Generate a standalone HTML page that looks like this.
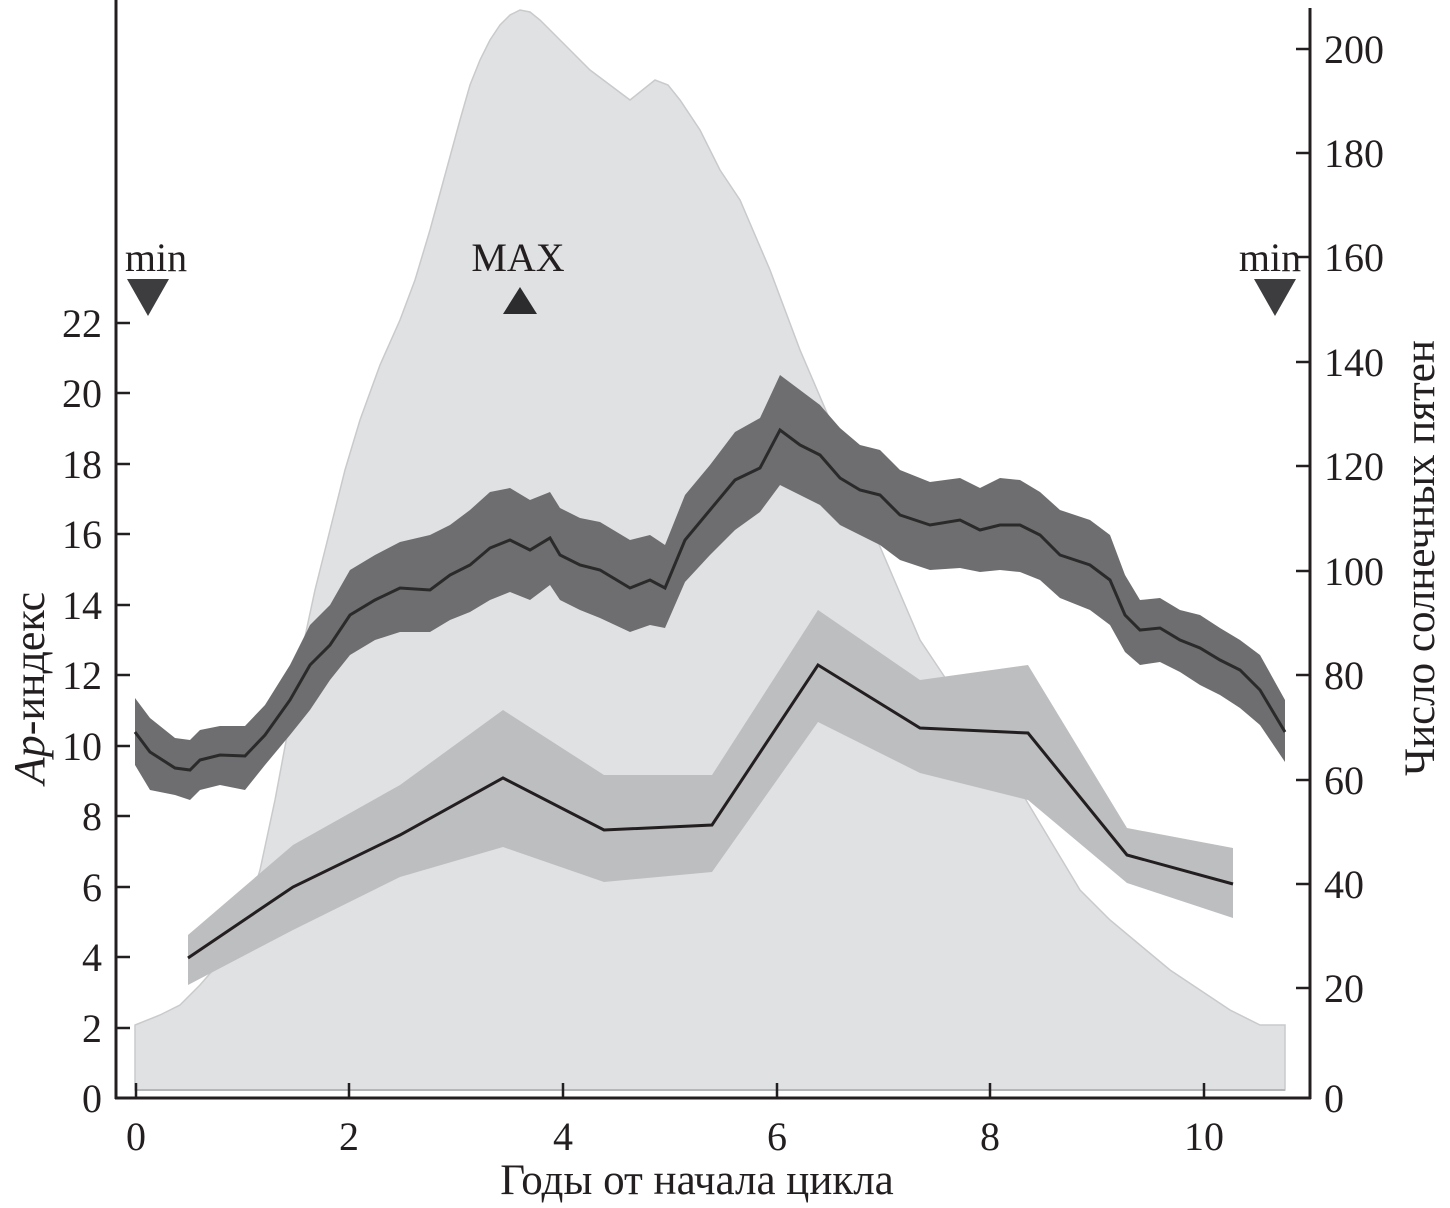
<!DOCTYPE html>
<html><head><meta charset="utf-8"><style>body{margin:0;background:#fff}svg{display:block}text{font-family:"Liberation Serif","DejaVu Serif",serif;fill:#231f20}</style></head><body>
<svg width="1450" height="1208" viewBox="0 0 1450 1208">
<path d="M135,1090 L135,1025 L160,1015 L180,1005 L200,985 L220,962 L240,935 L260,870 L275,800 L290,720 L300,660 L315,590 L330,530 L345,470 L360,420 L380,365 L400,320 L415,280 L430,230 L445,175 L460,120 L470,85 L480,60 L490,40 L500,25 L510,15 L520,10 L530,12 L540,20 L555,35 L570,50 L590,70 L610,85 L630,100 L645,88 L655,80 L668,85 L680,100 L700,130 L720,170 L740,200 L755,235 L770,270 L785,310 L800,350 L815,385 L830,420 L845,460 L860,500 L875,535 L890,570 L905,605 L920,640 L940,670 L960,700 L990,730 L1005,760 L1020,790 L1035,815 L1050,840 L1065,865 L1080,890 L1110,920 L1140,945 L1170,970 L1200,990 L1230,1010 L1260,1025 L1285,1025 L1285,1090 Z" fill="#e0e1e3" stroke="#c9cacc" stroke-width="1.5"/>
<line x1="135" y1="1090" x2="1285" y2="1090" stroke="#b5b6b8" stroke-width="2"/>
<path d="M188,935 L293,845 L400,785 L503,710 L604,775 L712,775 L818,610 L920,680 L1028,665 L1127,828 L1233,848 L1233,918 L1127,883 L1028,800 L920,773 L818,722 L712,872 L604,882 L503,847 L400,877 L293,930 L188,985 Z" fill="#bdbec0"/>
<polyline points="188,958 293,887 400,835 503,778 604,830 712,825 818,665 920,728 1028,733 1127,855 1233,884" fill="none" stroke="#231f20" stroke-width="3"/>
<path d="M135,698 L150,718 L175,738 L190,740 L200,730 L220,726 L245,726 L265,705 L290,665 L310,625 L330,605 L350,570 L375,555 L400,542 L430,535 L450,525 L470,510 L490,492 L510,488 L530,500 L550,492 L560,508 L580,518 L600,522 L630,540 L650,535 L665,545 L685,495 L710,465 L735,432 L760,418 L780,375 L800,390 L820,405 L840,428 L860,445 L880,450 L900,470 L930,482 L960,478 L980,488 L1000,478 L1020,480 L1040,492 L1060,510 L1090,520 L1110,535 L1125,575 L1140,600 L1160,598 L1180,610 L1200,615 L1220,628 L1240,640 L1260,655 L1285,700 L1285,762 L1260,725 L1240,708 L1220,695 L1200,685 L1180,672 L1160,662 L1140,665 L1125,652 L1110,625 L1090,610 L1060,598 L1040,580 L1020,572 L1000,570 L980,572 L960,568 L930,570 L900,560 L880,545 L860,535 L840,525 L820,505 L800,495 L780,485 L760,512 L735,530 L710,555 L685,582 L665,628 L650,625 L630,632 L600,618 L580,610 L560,600 L550,585 L530,600 L510,592 L490,600 L470,612 L450,620 L430,632 L400,632 L375,640 L350,655 L330,680 L310,710 L290,735 L265,765 L245,790 L220,785 L200,790 L190,800 L175,795 L150,790 L135,765 Z" fill="#6e6e70"/>
<polyline points="135,732 150,752 175,768 190,770 200,760 220,755 245,756 265,735 290,700 310,665 330,645 350,615 375,600 400,588 430,590 450,575 470,565 490,548 510,540 530,550 550,538 560,555 580,565 600,570 630,588 650,580 665,588 685,540 710,510 735,480 760,468 780,430 800,445 820,455 840,478 860,490 880,495 900,515 930,525 960,520 980,530 1000,525 1020,525 1040,535 1060,555 1090,565 1110,580 1125,615 1140,630 1160,628 1180,640 1200,648 1220,660 1240,670 1260,690 1285,732" fill="none" stroke="#2a2a2a" stroke-width="3"/>
<g stroke="#231f20" stroke-width="3" fill="none">
<line x1="116" y1="0" x2="116" y2="1099"/>
<line x1="115" y1="1098" x2="1311" y2="1098"/>
<line x1="1310" y1="8" x2="1310" y2="1099"/>
</g>
<g stroke="#231f20" stroke-width="2.5">
<line x1="116" y1="1028" x2="130" y2="1028"/><line x1="116" y1="957" x2="130" y2="957"/><line x1="116" y1="887" x2="130" y2="887"/><line x1="116" y1="816" x2="130" y2="816"/><line x1="116" y1="746" x2="130" y2="746"/><line x1="116" y1="675" x2="130" y2="675"/><line x1="116" y1="605" x2="130" y2="605"/><line x1="116" y1="534" x2="130" y2="534"/><line x1="116" y1="464" x2="130" y2="464"/><line x1="116" y1="393" x2="130" y2="393"/><line x1="116" y1="323" x2="130" y2="323"/>
<line x1="136" y1="1098" x2="136" y2="1083"/><line x1="349" y1="1098" x2="349" y2="1083"/><line x1="563" y1="1098" x2="563" y2="1083"/><line x1="777" y1="1098" x2="777" y2="1083"/><line x1="990" y1="1098" x2="990" y2="1083"/><line x1="1204" y1="1098" x2="1204" y2="1083"/>
<line x1="1296" y1="49" x2="1310" y2="49"/><line x1="1296" y1="153" x2="1310" y2="153"/><line x1="1296" y1="257" x2="1310" y2="257"/><line x1="1296" y1="362" x2="1310" y2="362"/><line x1="1296" y1="466" x2="1310" y2="466"/><line x1="1296" y1="571" x2="1310" y2="571"/><line x1="1296" y1="675" x2="1310" y2="675"/><line x1="1296" y1="780" x2="1310" y2="780"/><line x1="1296" y1="884" x2="1310" y2="884"/><line x1="1296" y1="988" x2="1310" y2="988"/>
</g>
<g font-size="40" text-anchor="end">
<text x="102" y="1112">0</text><text x="102" y="1042">2</text><text x="102" y="971">4</text><text x="102" y="901">6</text><text x="102" y="830">8</text><text x="102" y="760">10</text><text x="102" y="689">12</text><text x="102" y="619">14</text><text x="102" y="548">16</text><text x="102" y="478">18</text><text x="102" y="407">20</text><text x="102" y="337">22</text>
</g>
<g font-size="40" text-anchor="start">
<text x="1324" y="1112">0</text><text x="1324" y="1002">20</text><text x="1324" y="898">40</text><text x="1324" y="794">60</text><text x="1324" y="689">80</text><text x="1324" y="585">100</text><text x="1324" y="480">120</text><text x="1324" y="376">140</text><text x="1324" y="271">160</text><text x="1324" y="167">180</text><text x="1324" y="63">200</text>
</g>
<g font-size="40" text-anchor="middle">
<text x="136" y="1150">0</text><text x="349" y="1150">2</text><text x="563" y="1150">4</text><text x="777" y="1150">6</text><text x="990" y="1150">8</text><text x="1204" y="1150">10</text>
<text x="697" y="1194" font-size="43">Годы от начала цикла</text>
<text x="156" y="271">min</text><text x="518" y="271">MAX</text><text x="1270" y="271">min</text>
<text transform="translate(44,688) rotate(-90)" font-size="44"><tspan font-style="italic">Ap</tspan>-индекс</text>
<text transform="translate(1434,558) rotate(-90)" font-size="43">Число солнечных пятен</text>
</g>
<polygon points="127,279 169,279 148,316" fill="#3d3d3f"/>
<polygon points="1254,279 1296,279 1275,316" fill="#3d3d3f"/>
<polygon points="503,314 537,314 520,287" fill="#2c2c2e"/>
</svg>
</body></html>
